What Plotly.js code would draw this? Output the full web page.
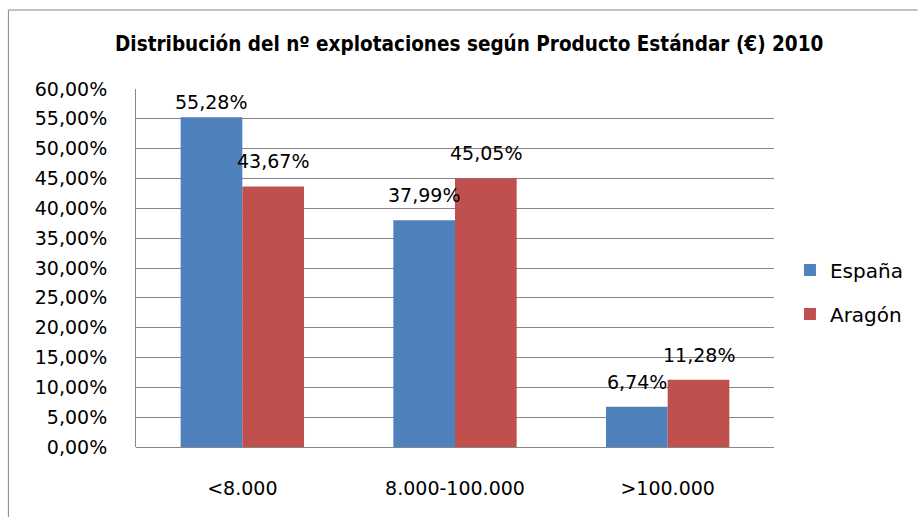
<!DOCTYPE html>
<html>
<head>
<meta charset="utf-8">
<script src="https://cdn.plot.ly/plotly-3.0.1.min.js"></script>
<style>html,body{margin:0;padding:0;background:#fff;}#chart{width:920px;height:517px;}</style>
</head>
<body>
<div id="chart"></div>
<script>
var categories = ['<8.000', '8.000-100.000', '>100.000'];
var espana = [55.28, 37.99, 6.74];
var aragon = [43.67, 45.05, 11.28];
var seriesNames = ['España', 'Aragón'];
var tickValues = [0, 5, 10, 15, 20, 25, 30, 35, 40, 45, 50, 55, 60];
var gridValues = [5, 10, 15, 20, 25, 30, 35, 40, 45, 50, 55];

function fmt(v) { return v.toFixed(2).replace('.', ',') + '%'; }

var FONT = 'DejaVu Sans';
var L = 136, R = 144, T = 89, B = 70, W = 920, H = 517;
var plotH = H - T - B;
var yMax = 60;

var traces = [
  {type: 'bar', name: seriesNames[0], x: categories, y: espana, marker: {color: '#4F81BD'}, legendgroup: 'a', hoverinfo: 'none'},
  {type: 'bar', name: seriesNames[1], x: categories, y: aragon, marker: {color: '#C0504D'}, legendgroup: 'b', hoverinfo: 'none'}
];

var annotations = [];
[espana, aragon].forEach(function (vals, si) {
  vals.forEach(function (v, i) {
    var px = T + plotH * (1 - v / yMax);
    var shift = Math.min(25, px - 102);
    annotations.push({
      x: categories[i], y: v, xref: 'x', yref: 'y',
      text: fmt(v), showarrow: false,
      xshift: si === 0 ? -31 : 31, yshift: shift,
      yanchor: 'middle',
      font: {family: FONT, size: 19, color: '#000'}
    });
  });
});

var layout = {
  width: W, height: H,
  margin: {l: L, r: R, t: T, b: B, pad: 0},
  paper_bgcolor: '#fff', plot_bgcolor: 'rgba(0,0,0,0)',
  title: {text: '<b>Distribución del nº explotaciones según Producto Estándar (€) 2010</b>',
    font: {family: 'DejaVu Sans Condensed', size: 20.5, color: '#000'},
    x: 0.51, xanchor: 'center', y: 0.915, yanchor: 'middle'},
  barmode: 'group', bargap: 0.42, bargroupgap: 0,
  showlegend: true,
  legend: {x: 1.025, xanchor: 'left', y: 0.549, yanchor: 'top',
    font: {family: FONT, size: 20, color: '#000'},
    tracegroupgap: 15, traceorder: 'grouped', bgcolor: 'rgba(0,0,0,0)'},
  xaxis: {type: 'category', showgrid: false, showline: false, zeroline: false,
    ticks: '', ticklabelstandoff: 28,
    tickfont: {family: FONT, size: 19, color: '#000'}},
  yaxis: {range: [0, yMax], tickvals: gridValues, showticklabels: false,
    showgrid: true, gridcolor: '#868686', gridwidth: 1,
    showline: false, zeroline: false, ticks: ''},
  yaxis2: {overlaying: 'y', side: 'left', range: [0, yMax], tickvals: tickValues, ticktext: tickValues.map(fmt),
    showgrid: false, showline: true, linecolor: '#868686', linewidth: 1,
    zeroline: true, zerolinecolor: '#868686', zerolinewidth: 1,
    ticks: '', ticklabelstandoff: 24,
    tickfont: {family: FONT, size: 19, color: '#000'}},
  annotations: annotations,
  shapes: [
    {type: 'line', xref: 'paper', yref: 'paper', x0: (8 - L) / (W - L - R), x1: (920 - L) / (W - L - R),
      y0: (H - B - 10) / plotH, y1: (H - B - 10) / plotH, line: {color: '#868686', width: 1}},
    {type: 'line', xref: 'paper', yref: 'paper', x0: (8 - L) / (W - L - R), x1: (8 - L) / (W - L - R),
      y0: (H - B - 10) / plotH, y1: -(B + 5) / plotH, line: {color: '#868686', width: 1}}
  ]
};

// invisible helper trace so that the label axis (yaxis2) is drawn
traces.push({type: 'scatter', x: [categories[0]], y: [0], yaxis: 'y2', mode: 'markers',
  marker: {opacity: 0}, showlegend: false, hoverinfo: 'none'});

Plotly.newPlot('chart', traces, layout, {displayModeBar: false, staticPlot: true});
</script>
</body>
</html>
